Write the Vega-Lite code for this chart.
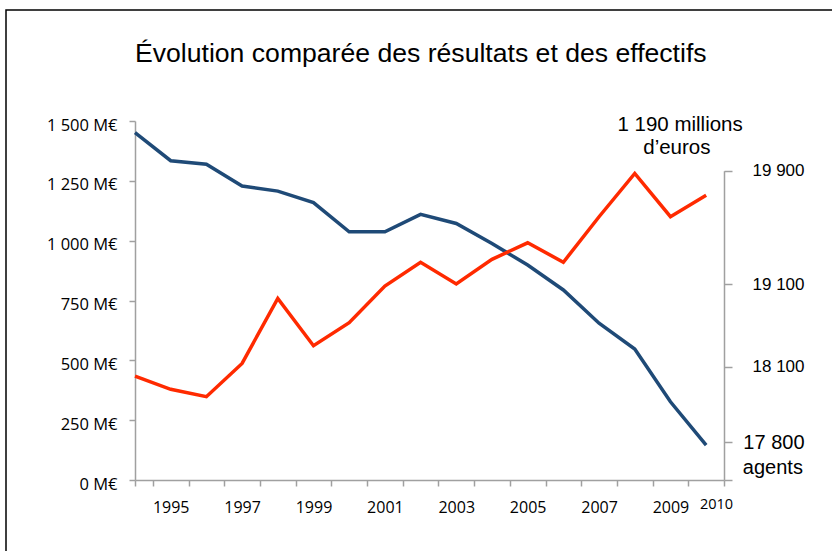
{
  "$schema": "https://vega.github.io/schema/vega-lite/v6.json",
  "width": 828,
  "height": 543,
  "autosize": {"type": "none"},
  "padding": {"left": 6, "top": 10, "right": 0, "bottom": 0},
  "background": "white",
  "config": {
    "view": {"stroke": "#000000", "strokeWidth": 1.5},
    "axis": {"grid": false, "title": null, "domainColor": "#a0a0a0", "tickColor": "#a0a0a0", "domainWidth": 1.5, "tickWidth": 1.5, "labelColor": "#000000"}
  },
  "title": {
    "text": "Évolution comparée des résultats et des effectifs",
    "font": "Liberation Sans",
    "fontSize": 26.6,
    "fontWeight": "normal",
    "color": "#000000",
    "anchor": "start",
    "frame": "group",
    "dx": 129,
    "baseline": "alphabetic",
    "offset": -79
  },
  "datasets": {
    "series": [
      {"year": 1994, "serie": "Effectifs", "value": 1451},
      {"year": 1995, "serie": "Effectifs", "value": 1334},
      {"year": 1996, "serie": "Effectifs", "value": 1319},
      {"year": 1997, "serie": "Effectifs", "value": 1228},
      {"year": 1998, "serie": "Effectifs", "value": 1207},
      {"year": 1999, "serie": "Effectifs", "value": 1159},
      {"year": 2000, "serie": "Effectifs", "value": 1037},
      {"year": 2001, "serie": "Effectifs", "value": 1037},
      {"year": 2002, "serie": "Effectifs", "value": 1110},
      {"year": 2003, "serie": "Effectifs", "value": 1072},
      {"year": 2004, "serie": "Effectifs", "value": 988},
      {"year": 2005, "serie": "Effectifs", "value": 898},
      {"year": 2006, "serie": "Effectifs", "value": 794},
      {"year": 2007, "serie": "Effectifs", "value": 655},
      {"year": 2008, "serie": "Effectifs", "value": 547},
      {"year": 2009, "serie": "Effectifs", "value": 327},
      {"year": 2010, "serie": "Effectifs", "value": 146},
      {"year": 1994, "serie": "Résultats", "value": 434},
      {"year": 1995, "serie": "Résultats", "value": 379},
      {"year": 1996, "serie": "Résultats", "value": 348},
      {"year": 1997, "serie": "Résultats", "value": 487},
      {"year": 1998, "serie": "Résultats", "value": 759},
      {"year": 1999, "serie": "Résultats", "value": 561},
      {"year": 2000, "serie": "Résultats", "value": 657},
      {"year": 2001, "serie": "Résultats", "value": 810},
      {"year": 2002, "serie": "Résultats", "value": 910},
      {"year": 2003, "serie": "Résultats", "value": 819},
      {"year": 2004, "serie": "Résultats", "value": 922},
      {"year": 2005, "serie": "Résultats", "value": 991},
      {"year": 2006, "serie": "Résultats", "value": 910},
      {"year": 2007, "serie": "Résultats", "value": 1100},
      {"year": 2008, "serie": "Résultats", "value": 1281},
      {"year": 2009, "serie": "Résultats", "value": 1100},
      {"year": 2010, "serie": "Résultats", "value": 1190}
    ],
    "notes": [
      {"label": "1 190 millions", "year": 2009.27, "value": 1458},
      {"label": "d’euros", "year": 2009.18, "value": 1361}
    ],
    "yearnote": [
      {"label": "2010", "year": 2010.29, "value": -122}
    ],
    "agents": [
      {"label": "agents", "year": 2011.87, "value": 25}
    ]
  },
  "layer": [
    {
      "encoding": {
        "x": {
          "field": "year", "type": "quantitative",
          "scale": {"domain": [1994, 2010.5], "range": [129, 718], "nice": false, "zero": false},
          "axis": {
            "orient": "bottom", "offset": -73,
            "values": [1995, 1997, 1999, 2001, 2003, 2005, 2007, 2009],
            "format": "d", "ticks": false, "tickSize": 0, "domain": false,
            "labelFont": "Open Sans", "labelFontSize": 16,
            "labelBaseline": "alphabetic", "labelPadding": 32.5
          }
        },
        "y": {
          "field": "value", "type": "quantitative",
          "scale": {"domain": [0, 1500], "range": [470, 111], "nice": false, "zero": true},
          "axis": {
            "orient": "left", "offset": -129,
            "values": [0, 250, 500, 750, 1000, 1250, 1500],
            "labelExpr": "replace(format(datum.value, ','), ',', ' ') + ' M€'",
            "tickSize": 6, "labelPadding": 12,
            "labelFont": "Open Sans", "labelFontSize": 16.5,
            "labelBaseline": "middle", "labelOffset": 4
          }
        }
      },
      "layer": [
        {
          "data": {"name": "series"},
          "mark": {"type": "line", "strokeWidth": 3.5, "strokeJoin": "miter"},
          "encoding": {
            "color": {
              "field": "serie", "type": "nominal",
              "scale": {"domain": ["Effectifs", "Résultats"], "range": ["#1f4a77", "#ff2a00"]},
              "legend": null
            }
          }
        },
        {
          "data": {"name": "notes"},
          "mark": {"type": "text", "font": "Liberation Sans", "fontSize": 20.5, "align": "center", "baseline": "alphabetic", "color": "#000000"},
          "encoding": {
            "text": {"field": "label"}
          }
        },
        {
          "data": {"name": "yearnote"},
          "mark": {"type": "text", "font": "Open Sans", "fontSize": 14.5, "align": "center", "baseline": "alphabetic", "color": "#000000"},
          "encoding": {
            "text": {"field": "label"}
          }
        }
      ]
    },
    {
      "data": {"name": "agents"},
      "mark": {"type": "text", "font": "Liberation Sans", "fontSize": 20, "align": "center", "baseline": "alphabetic", "color": "#000000"},
      "encoding": {
        "x": {
          "field": "year", "type": "quantitative",
          "scale": {"domain": [1994, 2010.5], "range": [129, 718], "nice": false, "zero": false},
          "axis": {
            "orient": "bottom", "offset": -73,
            "values": [1994, 1994.5, 1995.5, 1996.5, 1997.5, 1998.5, 1999.5, 2000.5, 2001.5, 2002.5, 2003.5, 2004.5, 2005.5, 2006.5, 2007.5, 2008.5, 2009.5, 2010.5],
            "labels": false, "tickSize": 6, "domain": true
          }
        },
        "y": {
          "field": "value", "type": "quantitative",
          "scale": {"domain": [0, 1292.3], "range": [470, 160.7], "nice": false, "zero": true},
          "axis": {
            "orient": "right", "offset": -110,
            "values": [0, 157.5, 473.4, 817.7, 1292.3],
            "labelExpr": "datum.value > 1200 ? '19 900' : datum.value > 800 ? '19 100' : datum.value > 400 ? '18 100' : datum.value > 100 ? '17 800' : ''",
            "tickSize": 8, "labelPadding": 72, "labelAlign": "right",
            "labelFont": "Liberation Sans",
            "labelFontSize": {"condition": {"test": "datum.value > 100 && datum.value < 200", "value": 20}, "value": 17},
            "labelBaseline": "middle"
          }
        },
        "text": {"field": "label"}
      }
    }
  ],
  "resolve": {"scale": {"y": "independent"}, "axis": {"x": "independent", "y": "independent"}}
}
